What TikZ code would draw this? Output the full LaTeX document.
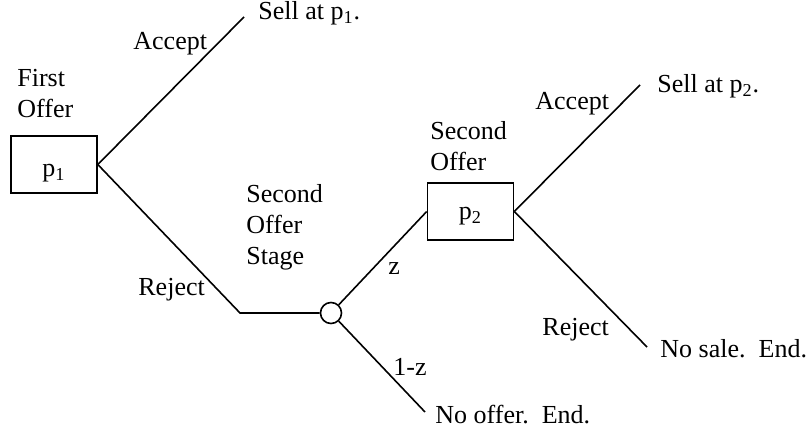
\documentclass[tikz,border=0pt]{standalone}
\usepackage{fontspec}
\setmainfont{Liberation Serif}
\begin{document}
\begin{tikzpicture}[x=0.5pt,y=-0.5pt,
  every node/.style={font=\fontsize{13}{15.5}\selectfont},
  edge/.style={line width=0.8pt},
  offerbox/.style={draw,line width=0.8pt,minimum width=43pt,minimum height=28.5pt,inner sep=0pt,text depth=0pt},
  chancenode/.style={draw,circle,line width=0.8pt,minimum size=10.5pt,inner sep=0pt},
  lbl/.style={anchor=base west,inner sep=0pt}]
\useasboundingbox (0,0) rectangle (812,432);
% nodes
\node[offerbox,text height=12.5pt] (p1) at (54,164.5) {p\textsubscript{1}};
\node[offerbox,text height=8pt] (p2) at (470.5,211.5) {p\textsubscript{2}};
\node[chancenode] (ch) at (331,313) {};
\coordinate (acc1) at (244,17);
\coordinate (rjc) at (240,313);
\coordinate (noff) at (425,412);
\coordinate (acc2) at (640,85);
\coordinate (rej2) at (647,347);
% connectors
\draw[edge] (p1.east) -- (acc1);
\draw[edge] (p1.east) -- (rjc) -- (ch.west);
\draw[edge] (ch) -- (p2.west);
\draw[edge] (ch) -- (noff);
\draw[edge] (p2.east) -- (acc2);
\draw[edge] (p2.east) -- (rej2);
% labels
\node[lbl] (tfirst) at (17,87) {\begin{tabular}[t]{@{}l@{}}First\\Offer\end{tabular}};
\node[lbl] (tacc1) at (133,50) {Accept};
\node[lbl] (tsell1) at (258,20) {Sell at p\textsubscript{1}.};
\node[lbl] (trej1) at (138,295) {Reject};
\node[lbl] (tstage) at (246,203) {\begin{tabular}[t]{@{}l@{}}Second\\Offer\\Stage\end{tabular}};
\node[lbl] (tz) at (388,275) {z};
\node[lbl] (tomz) at (393,375) {1-z};
\node[lbl] (tnooff) at (435,423) {No offer.\ \ End.};
\node[lbl] (tsec) at (430,140) {\begin{tabular}[t]{@{}l@{}}Second\\Offer\end{tabular}};
\node[lbl] (tacc2) at (535,110) {Accept};
\node[lbl] (tsell2) at (657,93) {Sell at p\textsubscript{2}.};
\node[lbl] (trej2) at (542,335) {Reject};
\node[lbl] (tnosale) at (660,357) {No sale.\ \ End.};
\end{tikzpicture}
\end{document}
